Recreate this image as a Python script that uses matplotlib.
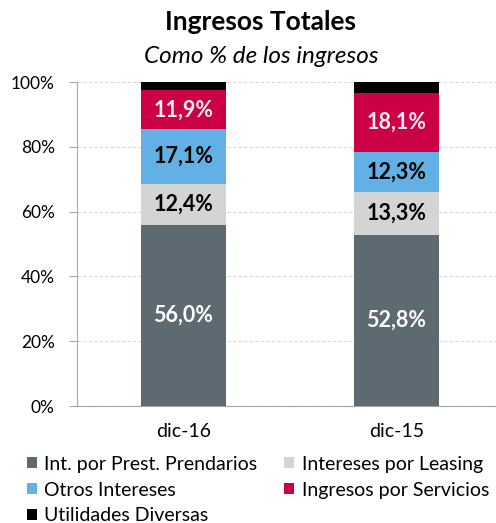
import numpy as np
import matplotlib.pyplot as plt

plt.rcParams['font.family'] = ['Lato', 'DejaVu Sans']

periods = ['dic-16', 'dic-15']
series = ['Int. por Prest. Prendarios', 'Intereses por Leasing', 'Otros Intereses',
          'Ingresos por Servicios', 'Utilidades Diversas']
prendarios = [56.0, 52.8]
leasing = [12.4, 13.3]
otros = [17.1, 12.3]
servicios = [11.9, 18.1]
utilidades = [2.6, 3.5]

colors = ['#5E6A71', '#D4D4D4', '#62B0E4', '#CC0044', '#000000']
label_colors = ['white', 'black', 'black', '#FBEFF2', None]

fig = plt.figure(figsize=(4.96, 5.23), dpi=100)
ax = fig.add_axes([0.155, 0.2237, 0.845, 0.6195])

x = np.arange(len(periods))
bottom = np.zeros(len(periods))
bars = []
for vals, c, lc, name in zip([prendarios, leasing, otros, servicios, utilidades],
                             colors, label_colors, series):
    vals = np.array(vals)
    b = ax.bar(x, vals, 0.4, bottom=bottom, color=c, label=name, zorder=3)
    bars.append(b)
    if lc:
        for xi, v, bt in zip(x, vals, bottom):
            ax.text(xi, bt + v / 2, f'{v:.1f}%'.replace('.', ','), ha='center', va='center',
                    color=lc, fontsize=15.5, fontweight='bold', zorder=4)
    bottom += vals

ax.set_xlim(-0.5, 1.467)
ax.set_ylim(0, 100)
ax.set_yticks(range(0, 101, 20))
ax.set_yticklabels([f'{v}%' for v in range(0, 101, 20)], fontsize=12.5)
ax.set_xticks(x)
ax.set_xticklabels(periods, fontsize=14)
ax.tick_params(axis='x', length=0, pad=12)
ax.tick_params(axis='y', length=6, color='#A6A6A6', pad=10)
ax.yaxis.grid(True, linestyle=(0, (3, 2)), color='#D9D9D9', linewidth=0.8, zorder=0)
for s in ['top', 'right']:
    ax.spines[s].set_visible(False)
for s in ['left', 'bottom']:
    ax.spines[s].set_color('#A6A6A6')

fig.text(0.526, 0.958, 'Ingresos Totales', ha='center', va='center', fontsize=19, fontweight='bold')
fig.text(0.526, 0.892, 'Como % de los ingresos', ha='center', va='center', fontsize=17.5, style='italic')

order = [0, 2, 4, 1, 3]
handles = [bars[i] for i in order]
labels = [series[i] for i in order]
fig.legend(handles, labels, ncol=2, loc='lower left', bbox_to_anchor=(0.019, -0.036),
           frameon=False, fontsize=14, handlelength=0.5, handleheight=0.5,
           handletextpad=0.4, columnspacing=1.37, labelspacing=0.45)

fig.savefig('out.png', dpi=100)
